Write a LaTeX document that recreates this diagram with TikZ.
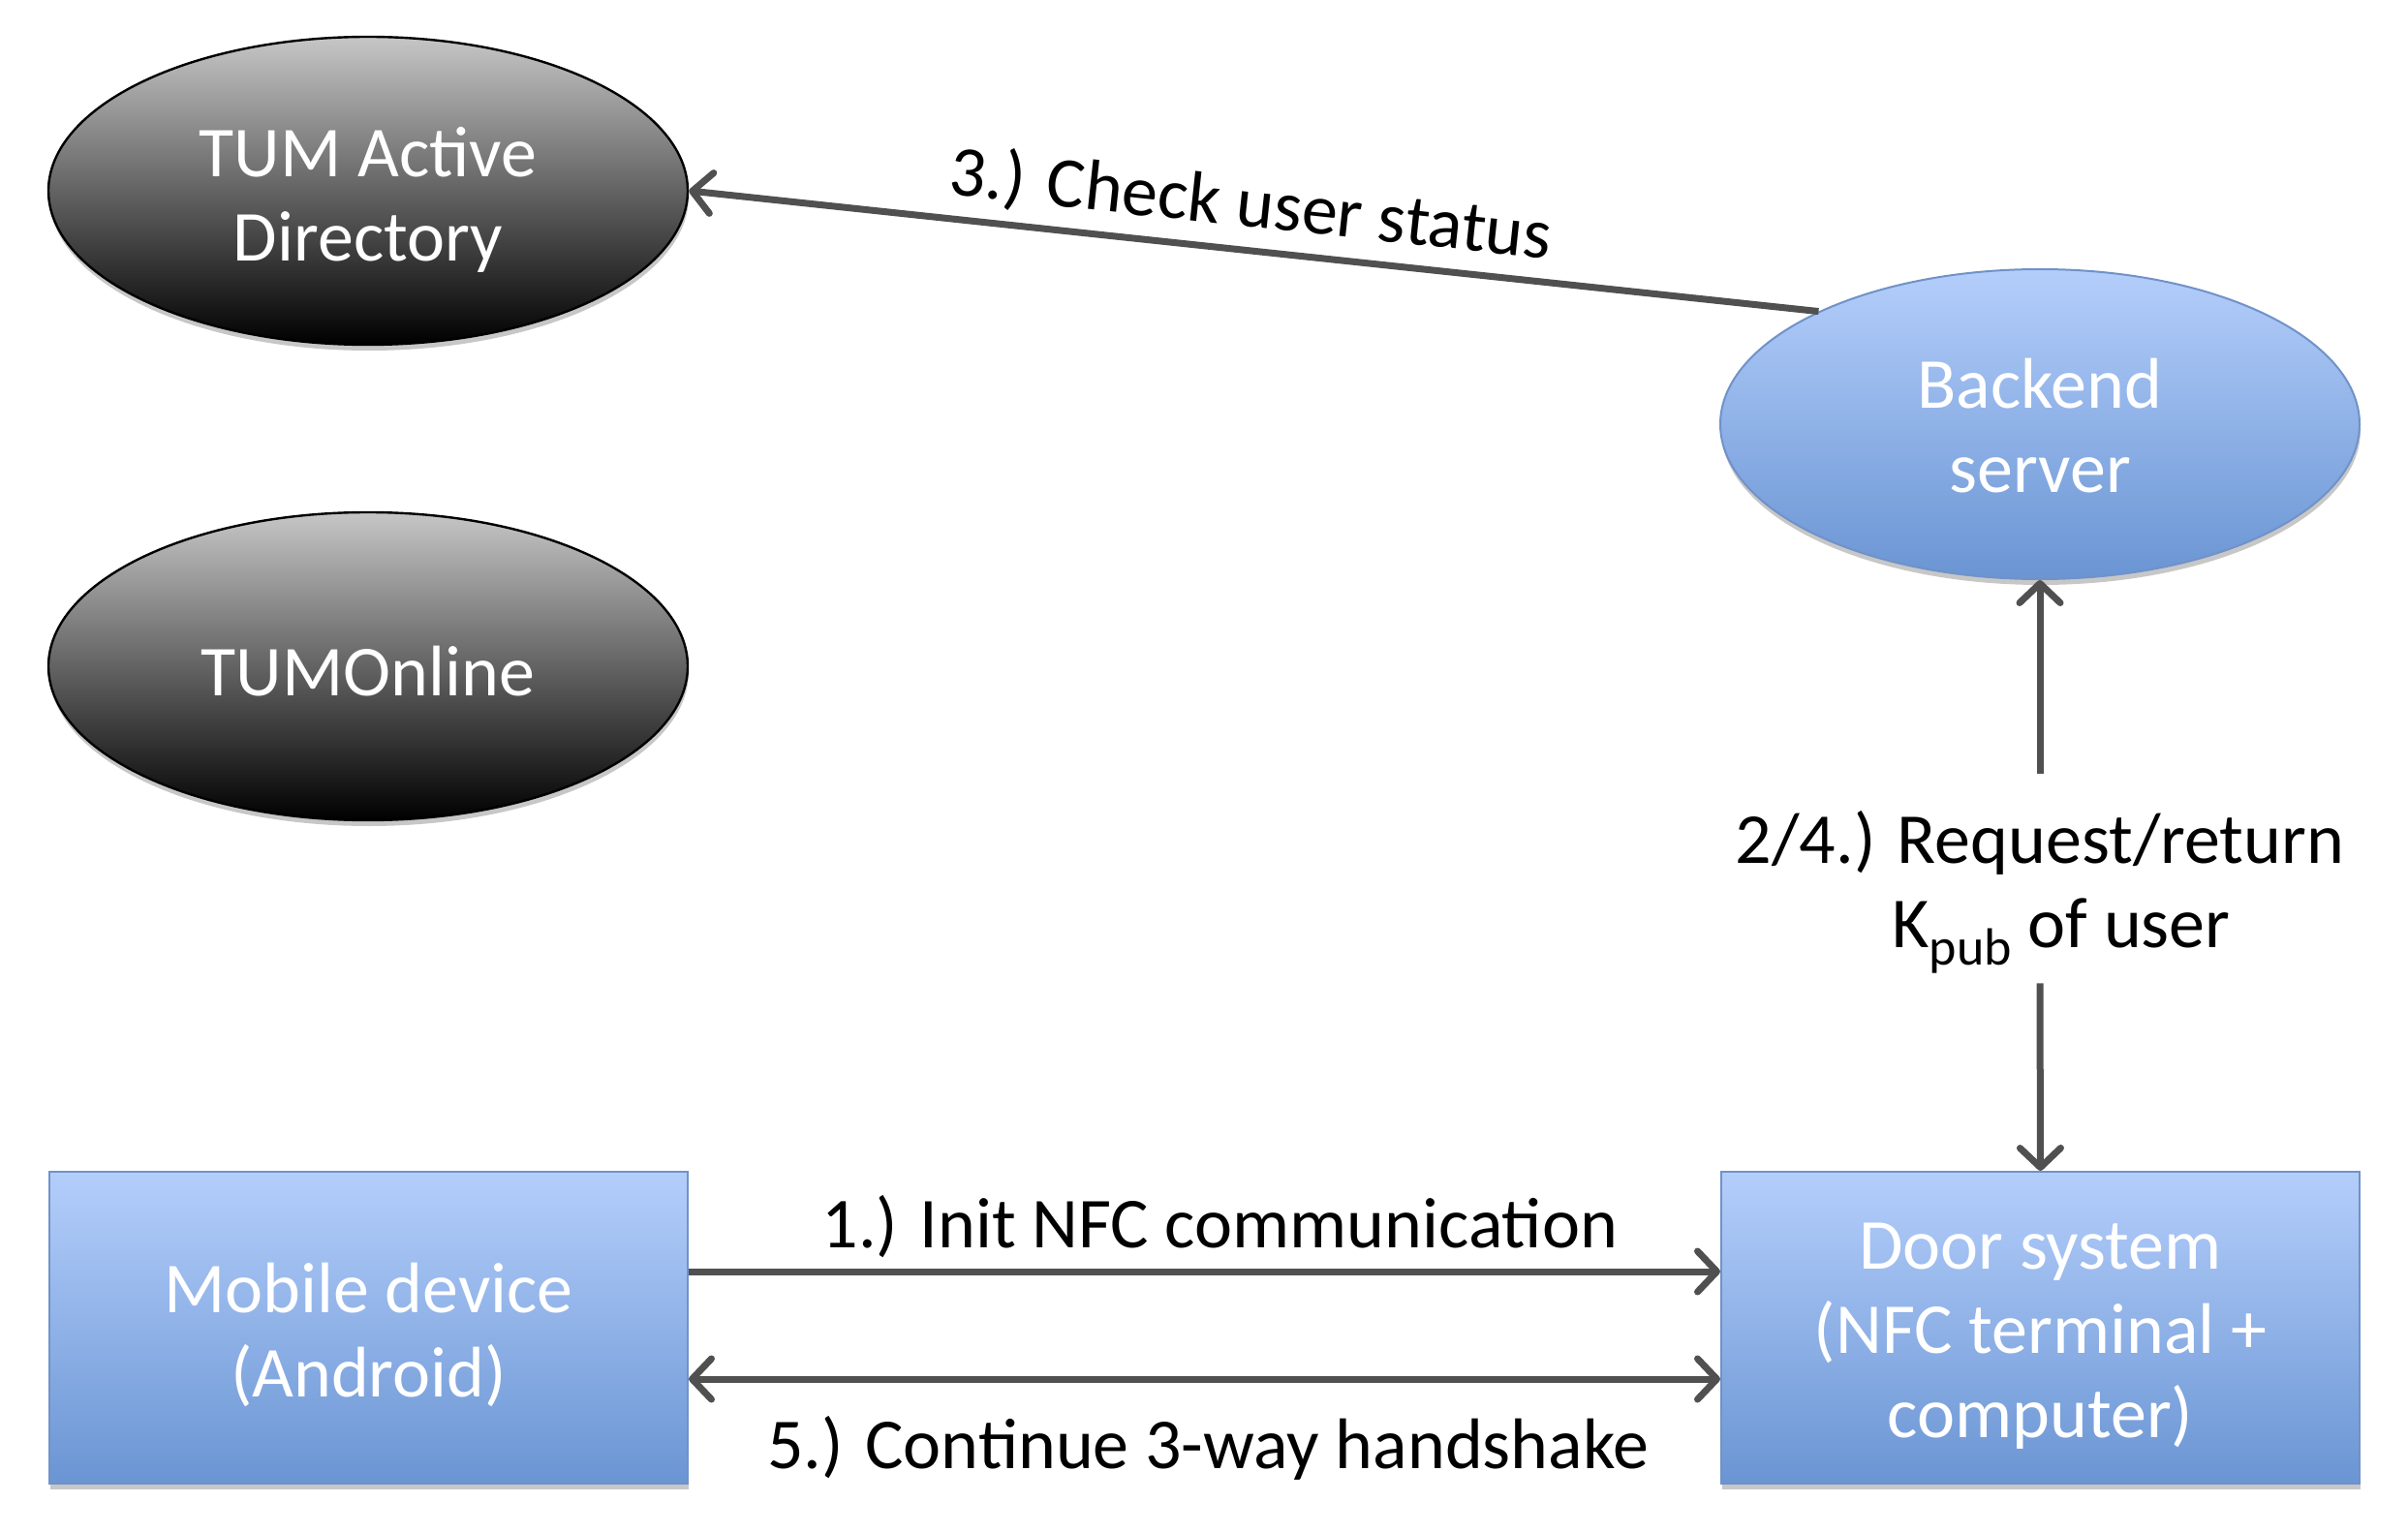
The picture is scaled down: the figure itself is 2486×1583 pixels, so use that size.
\documentclass[tikz,border=0pt]{standalone}
\usepackage{fontspec}
\setmainfont{Carlito}
\usetikzlibrary{shapes.geometric,arrows.meta,shadows}
\definecolor{blueTop}{RGB}{180,206,251}
\definecolor{blueBot}{RGB}{106,149,211}
\definecolor{blueLine}{RGB}{112,146,200}
\definecolor{grayTop}{RGB}{198,198,198}
\definecolor{arrGray}{RGB}{80,80,80}
\newcommand\lowtext[2]{\raisebox{#1}[\height][\depth]{\begin{tabular}{@{}c@{}}#2\end{tabular}}}
\begin{document}
\begin{tikzpicture}[x=0.5pt,y=-0.5pt,
  every node/.style={font=\fontsize{37}{43.5}\selectfont},
  softshadow/.style={drop shadow={shadow xshift=0.5pt, shadow yshift=-3pt, opacity=0.22, fill=black}},
  darkell/.style={ellipse, draw=black, line width=1.2pt, top color=grayTop, bottom color=black,
    text=white, minimum width=330pt, minimum height=159pt, inner sep=0pt, softshadow},
  blueell/.style={ellipse, draw=blueLine, line width=1pt, top color=blueTop, bottom color=blueBot,
    text=white, minimum width=330pt, minimum height=160pt, inner sep=0pt, softshadow},
  bluebox/.style={rectangle, draw=blueLine, line width=1pt, top color=blueTop, bottom color=blueBot,
    text=white, minimum width=329.5pt, minimum height=161pt, inner sep=0pt, softshadow},
  arr/.style={draw=arrGray, line width=3.5pt, -{Straight Barb[length=10pt,width=21pt,round]}},
  rarr/.style={draw=arrGray, line width=3.5pt, {Straight Barb[length=10pt,width=21pt,round]}-},
  darr/.style={draw=arrGray, line width=3.5pt, {Straight Barb[length=10pt,width=21pt,round]}-{Straight Barb[length=10pt,width=21pt,round]}},
  lbl/.style={text=black, align=center}
]
\useasboundingbox (0,0) rectangle (2486,1583);

\node[darkell] (ad) at (380,197) {\lowtext{-6pt}{TUM Active\\Directory}};
\node[darkell] (online) at (380,688) {\lowtext{-6.5pt}{TUMOnline}};
\node[blueell] (back) at (2106,438) {\lowtext{-4.8pt}{Backend\\server}};
\node[bluebox] (mob) at (380.5,1371) {\lowtext{-5.5pt}{Mobile device\\(Android)}};
\node[bluebox] (door) at (2106.5,1371) {\lowtext{-4.5pt}{Door system\\(NFC terminal +\\computer)}};

% 3.) check user status
\draw[rarr] (ad.east) -- node[lbl, sloped, above=2pt, xshift=-4pt] {3.) Check user status} (back.153);

% 2/4.) request/return
\node[text=black, minimum height=108pt, inner sep=0pt] (k) at (2106,907)
  {\lowtext{-5.5pt}{2/4.) Request/return\\\hspace*{22pt}K\raisebox{-9pt}{\fontsize{27}{27}\selectfont pub} of user}};
\draw[arr] (k.north) -- (back.south);
\draw[arr] (k.south) -- (door.north);

% 1.) init NFC
\draw[arr] ([yshift=29pt]mob.east) -- node[lbl, above=2pt, xshift=8pt] {1.) Init NFC communication} ([yshift=29pt]door.west);

% 5.) continue handshake
\draw[darr] ([yshift=-26.5pt]mob.east) -- node[lbl, below=14pt, xshift=2pt] {5.) Continue 3-way handshake} ([yshift=-26.5pt]door.west);
\end{tikzpicture}
\end{document}
